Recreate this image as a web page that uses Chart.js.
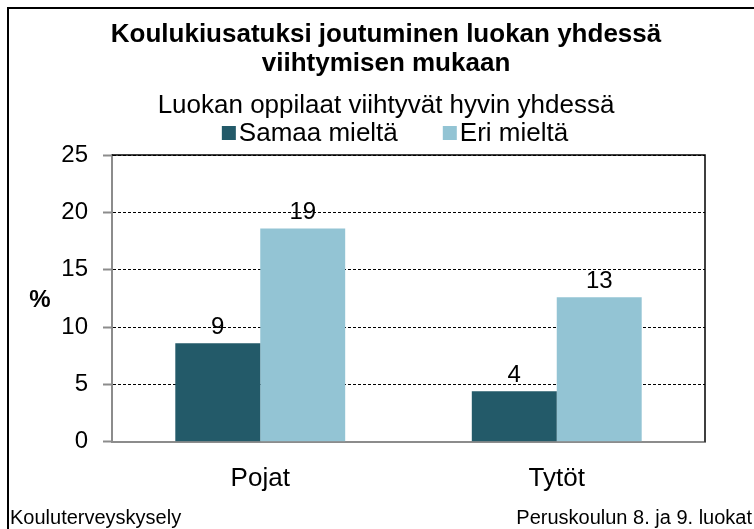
<!DOCTYPE html>
<html>
<head>
<meta charset="utf-8">
<script src="https://cdn.jsdelivr.net/npm/chart.js@4/dist/chart.umd.min.js"></script>
<style>
html,body{margin:0;padding:0;background:#fff;}
#wrap{width:754px;height:529px;position:relative;}
</style>
</head>
<body>
<div id="wrap"><canvas id="c" width="754" height="529"></canvas></div>
<script>
const titleLines = ['Koulukiusatuksi joutuminen luokan yhdessä', 'viihtymisen mukaan'];
const legendTitle = 'Luokan oppilaat viihtyvät hyvin yhdessä';
const categories = ['Pojat', 'Tytöt'];
const seriesNames = ['Samaa mieltä', 'Eri mieltä'];
const samaaMielta = [8.6, 4.4];
const eriMielta = [18.6, 12.6];
const yTicks = [0, 5, 10, 15, 20, 25];
const yAxisLabel = '%';
const sourceLeft = 'Kouluterveyskysely';
const sourceRight = 'Peruskoulun 8. ja 9. luokat';

const FONT = "'Liberation Sans', Arial, sans-serif";
const COLORS = ['#235A69', '#93C4D4'];

const decor = {
  id: 'decor',
  beforeDraw(chart) {
    const ctx = chart.ctx;
    ctx.save();
    ctx.strokeStyle = '#000';
    ctx.lineWidth = 2;
    ctx.beginPath();
    ctx.moveTo(8, 529);
    ctx.lineTo(8, 8);
    ctx.lineTo(754, 8);
    ctx.stroke();
    ctx.restore();
  },
  beforeDatasetsDraw(chart) {
    const ctx = chart.ctx, a = chart.chartArea;
    ctx.save();
    ctx.strokeStyle = '#000';
    ctx.lineWidth = 1.5;
    ctx.beginPath();
    ctx.moveTo(a.left, a.top);
    ctx.lineTo(a.right, a.top);
    ctx.lineTo(a.right, a.bottom);
    ctx.stroke();
    ctx.restore();
  },
  afterDatasetsDraw(chart) {
    const ctx = chart.ctx;
    ctx.save();
    ctx.fillStyle = '#000';
    ctx.font = '24px ' + FONT;
    ctx.textAlign = 'center';
    ctx.textBaseline = 'alphabetic';
    chart.data.datasets.forEach((ds, i) => {
      chart.getDatasetMeta(i).data.forEach((bar, j) => {
        ctx.fillText(String(Math.round(ds.data[j])), bar.x, bar.y - 9);
      });
    });
    ctx.restore();
  },
  afterDraw(chart) {
    const ctx = chart.ctx;
    ctx.save();
    ctx.fillStyle = '#000';
    ctx.font = '26px ' + FONT;
    ctx.textAlign = 'center';
    ctx.textBaseline = 'middle';
    ctx.fillText(legendTitle, 386, 106);
    const box = 14, gap = 3, itemGap = 45;
    const widths = chart.data.datasets.map(ds => ctx.measureText(ds.label).width);
    let total = 0;
    widths.forEach((w, i) => { total += box + gap + w + (i < widths.length - 1 ? itemGap : 0); });
    let x = 395 - total / 2;
    ctx.textAlign = 'left';
    chart.data.datasets.forEach((ds, i) => {
      ctx.fillStyle = ds.backgroundColor;
      ctx.fillRect(x, 126, box, box);
      ctx.fillStyle = '#000';
      ctx.fillText(ds.label, x + box + gap, 134);
      x += box + gap + widths[i] + itemGap;
    });
    ctx.font = 'bold 24px ' + FONT;
    ctx.textAlign = 'center';
    ctx.fillText(yAxisLabel, 40, 300);
    ctx.font = '20px ' + FONT;
    ctx.textAlign = 'left';
    ctx.fillText(sourceLeft, 10, 518);
    ctx.textAlign = 'right';
    ctx.fillText(sourceRight, 752, 518);
    ctx.restore();
  }
};

new Chart(document.getElementById('c'), {
  type: 'bar',
  data: {
    labels: categories,
    datasets: [
      { label: seriesNames[0], data: samaaMielta, backgroundColor: COLORS[0] },
      { label: seriesNames[1], data: eriMielta, backgroundColor: COLORS[1] }
    ]
  },
  options: {
    responsive: false,
    animation: false,
    devicePixelRatio: 1,
    categoryPercentage: 0.573,
    barPercentage: 1.0,
    layout: { padding: { top: 0, left: 55, right: 37, bottom: 14 } },
    plugins: {
      legend: { display: false },
      tooltip: { enabled: false },
      title: {
        display: true,
        text: titleLines,
        color: '#000',
        font: { family: FONT, size: 26, weight: 'bold', lineHeight: 29 / 26 },
        padding: { top: 20.5, bottom: 76.5 }
      }
    },
    scales: {
      x: {
        grid: { display: true, drawOnChartArea: false, drawTicks: false },
        border: { display: true, color: '#8c8c8c', width: 2 },
        ticks: { color: '#000', font: { family: FONT, size: 26 }, padding: 21 }
      },
      y: {
        min: 0,
        max: 25,
        afterBuildTicks: s => { s.ticks = yTicks.map(v => ({ value: v })); },
        afterFit: s => { s.width = 57; },
        grid: {
          color: c => (c.tick && c.tick.value === 0) ? 'rgba(0,0,0,0)' : '#000',
          lineWidth: 1,
          tickColor: '#8c8c8c',
          tickLength: 9,
          tickWidth: 2
        },
        border: { display: true, color: '#8c8c8c', width: 2, dash: [3, 2] },
        ticks: { color: '#000', font: { family: FONT, size: 24 }, padding: 15 }
      },
      spacer: {
        type: 'linear',
        position: 'right',
        display: true,
        afterFit: s => { s.width = 12; },
        grid: { display: false },
        border: { display: false },
        ticks: { display: false }
      }
    }
  },
  plugins: [decor]
});
</script>
</body>
</html>
